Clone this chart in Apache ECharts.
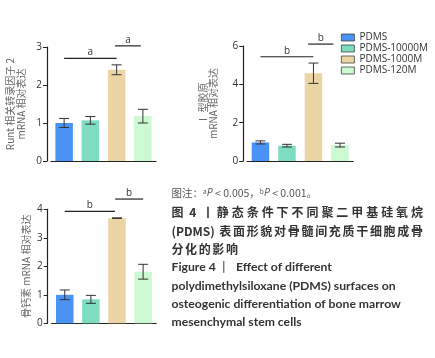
<!DOCTYPE html>
<html>
<head>
<meta charset="utf-8">
<script src="https://cdn.jsdelivr.net/npm/echarts@6/dist/echarts.min.js"></script>
<style>
  html, body { margin: 0; padding: 0; background: #fff; }
  #main { width: 435px; height: 358px; }
</style>
</head>
<body>
<div id="main"></div>
<script>
const groups = ['PDMS', 'PDMS-10000M', 'PDMS-1000M', 'PDMS-120M'];
const colors = ['#4a93f5', '#7edcc0', '#ebd5a5', '#ccf8d2'];

// Runt 相关转录因子 2
const runtMean = [1.0, 1.07, 2.4, 1.18];
const runtErr = [0.12, 0.1, 0.13, 0.18];
// I 型胶原
const colMean = [0.97, 0.8, 4.58, 0.83];
const colErr = [0.08, 0.07, 0.53, 0.1];
// 骨钙素
const ocnMean = [1.0, 0.84, 3.69, 1.81];
const ocnErr = [0.17, 0.14, 0.01, 0.26];

// significance brackets: [from index, to index, height, mark]
const runtSig = [[0, 2, 2.7, 'a'], [1.94, 2.92, 3.03, 'a']];
const colSig = [[0, 2, 5.44, 'b'], [1.8, 2.75, 6.1, 'b']];
const ocnSig = [[0, 1.92, 3.93, 'b'], [1.93, 3, 4.36, 'b']];

const yTicks = [[3, 1], [6, 2], [4, 1]]; // max, interval

const chart = echarts.init(document.getElementById('main'));

function barSeries(k, means) {
  return groups.map((g, i) => ({
    type: 'bar', name: g, xAxisIndex: k, yAxisIndex: k,
    barWidth: 17.5, barGap: '-100%',
    itemStyle: { color: colors[i] },
    data: means.map((v, j) => (j === i ? v : '-'))
  }));
}

function errSeries(k, means, errs) {
  return {
    type: 'custom', xAxisIndex: k, yAxisIndex: k, z: 5,
    data: means.map((v, i) => [i, v, errs[i]]),
    encode: { x: 0, y: 1 },
    renderItem: (params, api) => {
      const x = api.value(0), m = api.value(1), e = api.value(2);
      const hi = api.coord([x, m + e]);
      const lo = api.coord([x, m - e]);
      const w = 5;
      const st = { stroke: '#333', lineWidth: 1 };
      return {
        type: 'group', children: [
          { type: 'line', shape: { x1: hi[0], y1: hi[1], x2: lo[0], y2: lo[1] }, style: st },
          { type: 'line', shape: { x1: hi[0] - w, y1: hi[1], x2: hi[0] + w, y2: hi[1] }, style: st },
          { type: 'line', shape: { x1: lo[0] - w, y1: lo[1], x2: lo[0] + w, y2: lo[1] }, style: st }
        ]
      };
    }
  };
}

function xAt(api, f, y) {
  const i = Math.floor(f);
  const a = api.coord([i, y]), b = api.coord([i + 1, y]);
  return a[0] + (b[0] - a[0]) * (f - i);
}

function sigSeries(k, sig) {
  return {
    type: 'custom', xAxisIndex: k, yAxisIndex: k, z: 6, clip: false,
    data: sig.map(s => [s[0], s[1], s[2]]),
    encode: { x: [0, 1], y: 2 },
    renderItem: (params, api) => {
      const y = api.value(2);
      const x1 = xAt(api, api.value(0), y);
      const x2 = xAt(api, api.value(1), y);
      const py = api.coord([0, y])[1];
      return {
        type: 'group', children: [
          { type: 'line', shape: { x1: x1, y1: py, x2: x2, y2: py }, style: { stroke: '#222', lineWidth: 1.2 } },
          { type: 'text', x: (x1 + x2) / 2, y: py - 1,
            style: { text: sig[params.dataIndex][3], fill: '#333', fontSize: 10, fontFamily: 'Open Sans',
                     align: 'center', verticalAlign: 'bottom' } }
        ]
      };
    }
  };
}

function xAx(k) {
  return {
    gridIndex: k, type: 'category', data: groups,
    axisLine: { lineStyle: { color: '#222', width: 1.2 } },
    axisTick: { alignWithLabel: true, length: 4, lineStyle: { color: '#222' } },
    axisLabel: { show: false }
  };
}

function yAx(k, name, gap, lh) {
  return {
    gridIndex: k, type: 'value', min: 0, max: yTicks[k][0], interval: yTicks[k][1], offset: 4,
    axisLine: { show: true, lineStyle: { color: '#222', width: 1.2 } },
    axisTick: { show: true, length: 4, lineStyle: { color: '#222' } },
    axisLabel: { fontSize: 10, color: '#333', margin: 5, fontFamily: 'Open Sans' },
    splitLine: { show: false },
    name: name, nameLocation: 'middle', nameRotate: 90, nameGap: gap,
    nameTextStyle: { fontSize: 10, color: '#666', lineHeight: lh, fontFamily: 'Noto Sans CJK SC' }
  };
}

// caption helpers
const measurer = document.createElement('canvas').getContext('2d');
function spread(str, x0, x1, y, size, family, fill) {
  const font = 'bold ' + size + 'px ' + family;
  measurer.font = font;
  const parts = str.match(/[\x21-\x7e]+\s*|[^\x00-\x7f]\s*/g);
  const widths = parts.map(p => measurer.measureText(p).width);
  const total = widths.reduce((a, b) => a + b, 0);
  const gap = parts.length > 1 ? (x1 - x0 - total) / (parts.length - 1) : 0;
  let x = x0;
  return parts.map((p, i) => {
    const el = { type: 'text', x: x, y: y,
      style: { text: p, fontSize: size, fontWeight: 'bold', fontFamily: family, fill: fill, verticalAlign: 'middle' } };
    x += widths[i] + gap;
    return el;
  });
}

function line(str, x, y, fill) {
  return { type: 'text', x: x, y: y,
    style: { text: str, fontSize: 12.2, fontWeight: 'bold', fontFamily: 'Lato', fill: fill || '#333', verticalAlign: 'middle' } };
}

const cjk = '"Noto Sans CJK SC"';
const caption = [].concat(
  [{ type: 'text', x: 171.5, y: 193.5,
     style: { text: '图注：{s|a}{i|P} < 0.005，{s|b}{i|P} < 0.001。', fontSize: 10.5, fontFamily: cjk, fill: '#555',
              verticalAlign: 'middle',
              rich: { s: { fontSize: 6.5, verticalAlign: 'top', fill: '#555', fontFamily: cjk },
                      i: { fontStyle: 'italic', fontSize: 10.5, fill: '#555', fontFamily: 'Open Sans' } } } }],
  spread('图 4 丨静态条件下不同聚二甲基硅氧烷', 171.5, 423, 212.5, 12, cjk, '#333'),
  spread('(PDMS) 表面形貌对骨髓间充质干细胞成骨', 171.5, 423, 231.5, 12, cjk, '#333'),
  spread('分化的影响', 171.5, 238, 249.5, 12, cjk, '#333'),
  [line('Figure 4', 171.5, 267.5),
   line('丨', 218, 267.5, '#777'),
   line('Effect of different', 236, 267.5),
   line('polydimethylsiloxane (PDMS) surfaces on', 171.5, 286),
   line('osteogenic differentiation of bone marrow', 171.5, 304),
   line('mesenchymal stem cells', 171.5, 322)]
);

const option = {
  animation: false,
  backgroundColor: '#fff',
  grid: [
    { left: 51, top: 47, width: 105, height: 114 },
    { left: 247.2, top: 46, width: 106, height: 115 },
    { left: 51.7, top: 209.3, width: 104.5, height: 114 }
  ],
  xAxis: [xAx(0), xAx(1), xAx(2)],
  yAxis: [
    yAx(0, 'Runt 相关转录因子 2\nmRNA 相对表达', 20, 11),
    yAx(1, 'Ⅰ 型胶原\nmRNA 相对表达', 25, 10),
    yAx(2, '骨钙素 mRNA 相对表达', 16, 11)
  ],
  legend: {
    data: groups, orient: 'vertical', left: 341, top: 32.5, padding: 0,
    itemWidth: 13, itemHeight: 7, itemGap: 1, icon: 'rect',
    itemStyle: { borderColor: '#444', borderWidth: 0.8 },
    textStyle: { fontSize: 10, color: '#333', fontFamily: 'Open Sans' },
    selectedMode: false
  },
  graphic: caption,
  series: [].concat(
    barSeries(0, runtMean), barSeries(1, colMean), barSeries(2, ocnMean),
    [errSeries(0, runtMean, runtErr), errSeries(1, colMean, colErr), errSeries(2, ocnMean, ocnErr),
     sigSeries(0, runtSig), sigSeries(1, colSig), sigSeries(2, ocnSig)]
  )
};
chart.setOption(option);
</script>
</body>
</html>
